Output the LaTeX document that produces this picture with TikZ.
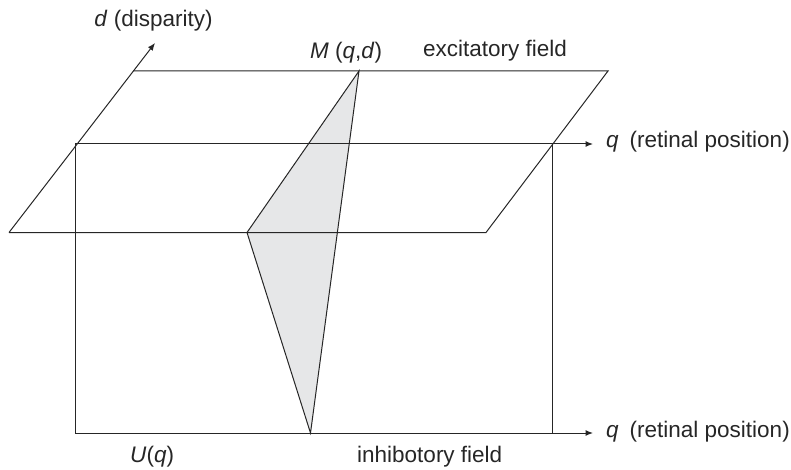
\documentclass[tikz,border=0pt]{standalone}
\usepackage{fontspec}
\setmainfont{Liberation Sans}
\usetikzlibrary{arrows.meta}
\begin{document}
\begin{tikzpicture}[x=1pt,y=-1pt,
  line/.style={draw=black!85, line width=1pt},
  axis/.style={line, -{Latex[length=7.5pt,width=6pt]}},
  lbl/.style={inner sep=0pt, font=\fontsize{22.5}{26}\selectfont, text=black!85},
  ]
\useasboundingbox (0,0) rectangle (791,470);
% excitatory field (parallelogram)
\coordinate (P1) at (9,232.5);
\coordinate (P2) at (133,71);
\coordinate (P3) at (608,71);
\coordinate (P4) at (486,232.5);
% inhibitory field (rectangle)
\coordinate (R1) at (75,144);
\coordinate (R2) at (552,144);
\coordinate (R3) at (552,433);
\coordinate (R4) at (75,433);
% shaded triangle
\coordinate (T1) at (359,71);
\coordinate (T2) at (247,232.5);
\coordinate (T3) at (310.5,433);
% axis tips
\coordinate (dtip) at (155,43);
\coordinate (q1) at (593,144);
\coordinate (q2) at (593,433);

\fill[fill={rgb,255:red,230;green,231;blue,232}] (T1) -- (T2) -- (T3) -- cycle;

\draw[axis] (P1) -- (dtip);
\draw[line] (P2) -- (P3) -- (P4) -- (P1);
\draw[axis] (R1) -- (q1);
\draw[axis] (R4) -- (q2);
\draw[line] (R1) -- (R4);
\draw[line] (R2) -- (R3);
\draw[line, line join=miter] (T1) -- (T2) -- (T3) -- cycle;

\node[lbl, anchor=base] (dlab) at (153.5,27) {\textit{d} (disparity)};
\node[lbl, anchor=base west] (mlab) at (310,59) {\textit{M} (\textit{q},\textit{d})};
\node[lbl, anchor=base west] (exc) at (423,57) {excitatory field};
\node[lbl, anchor=base west] (qlab1) at (606,148) {\textit{q}\hspace{11pt}(retinal position)};
\node[lbl, anchor=base west] (qlab2) at (606,437) {\textit{q}\hspace{11pt}(retinal position)};
\node[lbl, anchor=base west] (ulab) at (130,462) {\textit{U}(\textit{q})};
\node[lbl, anchor=base west] (inh) at (357,462) {inhibotory field};
\end{tikzpicture}
\end{document}
